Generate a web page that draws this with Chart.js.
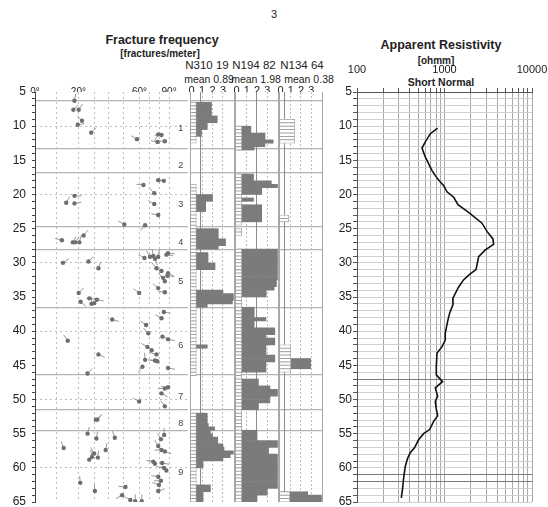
<!DOCTYPE html>
<html>
<head>
<meta charset="utf-8">
<script src="https://cdn.jsdelivr.net/npm/chart.js@4.4.1/dist/chart.umd.min.js"></script>
<style>
  body { margin: 0; width: 548px; height: 507px; overflow: hidden; background: #fff; position: relative;
         font-family: 'Liberation Sans', Arial, sans-serif; color: #222; }
  canvas { position: absolute; }
  .t { position: absolute; transform: translate(-50%, -50%); white-space: nowrap; }
  .b { font-weight: bold; }
</style>
</head>
<body>
<div class="t" style="left:274px;top:14px;font-size:11px">3</div>
<div class="t b" style="left:162px;top:40px;font-size:12.5px">Fracture frequency</div>
<div class="t b" style="left:160px;top:53px;font-size:10px">[fractures/meter]</div>
<div class="t" style="left:207px;top:65px;font-size:11.5px">N310 19</div>
<div class="t" style="left:254px;top:65px;font-size:11.5px">N194 82</div>
<div class="t" style="left:302px;top:65px;font-size:11.5px">N134 64</div>
<div class="t" style="left:209px;top:79px;font-size:10.5px">mean 0.89</div>
<div class="t" style="left:256px;top:79px;font-size:10.5px">mean 1.98</div>
<div class="t" style="left:309px;top:79px;font-size:10.5px">mean 0.38</div>
<div class="t b" style="left:441px;top:45px;font-size:12.5px">Apparent Resistivity</div>
<div class="t b" style="left:436px;top:60px;font-size:10px">[ohmm]</div>
<div class="t b" style="left:441px;top:82px;font-size:10.5px">Short Normal</div>

<canvas id="chartDip" width="190" height="430" style="left:0;top:80px"></canvas>
<canvas id="chartN310" width="57" height="430" style="left:184px;top:80px"></canvas>
<canvas id="chartN194" width="56" height="430" style="left:229px;top:80px"></canvas>
<canvas id="chartN134" width="56" height="430" style="left:273px;top:80px"></canvas>
<canvas id="chartRes" width="218" height="454" style="left:330px;top:56px"></canvas>

<script>
/* =============================================
   DATA
   ============================================= */
// zone boundaries / labels (depth, m)
const zoneBounds = [6.3, 13.3, 16.8, 24.7, 28.0, 36.6, 46.4, 51.5, 54.5];
const zoneNames = ['1', '2', '3', '4', '5', '6', '7', '8', '9'];
const zoneLabelDepths = [10.4, 15.7, 21.4, 27.0, 32.7, 42.1, 49.6, 53.5, 60.7];

// tadpoles: [depth m, dip deg, tail direction deg (0 = up, clockwise)]
const tadpoles = [
  [6.27, 18.2, 10], [7.6, 17.7, 45], [7.6, 20.2, 35], [9.2, 22.3, 315], [9.8, 19.7, 80],
  [10.95, 28.1, 45], [11.9, 58.4, 300], [11.2, 79, 210], [11.3, 82.3, 270], [12.3, 78.3, 280],
  [12.2, 85.7, 270],
  [17.9, 79, 90], [18.0, 84.7, 270], [18.6, 64, 275], [19.8, 75, 315], [20.2, 18.2, 90],
  [21.2, 14.4, 30], [21.3, 18.2, 80], [21.4, 75, 300], [23.0, 79, 280], [24.4, 50.4, 300],
  [24.5, 65.7, 220],
  [26.7, 12.4, 285], [27.0, 17.4, 30], [27.0, 18.5, 35], [27.0, 20.6, 15], [26.0, 23.3, 40],
  [28.6, 89, 95], [28.8, 87.3, 100], [29.3, 65, 300], [29.1, 70.7, 330], [29.0, 74, 350],
  [29.1, 79, 10], [29.4, 75.7, 160], [30.0, 12.9, 55], [29.8, 26.4, 45], [30.8, 32.9, 20],
  [30.8, 77.3, 320], [31.2, 82.3, 290], [31.5, 89, 120], [31.9, 88.3, 95], [32.2, 84, 315],
  [32.7, 85.7, 320], [33.7, 79, 310], [34.3, 85.7, 280], [34.4, 59.8, 305],
  [34.4, 20.2, 45], [35.2, 26.9, 100], [35.7, 21.4, 130], [35.9, 30, 50], [35.4, 31.8, 100],
  [36.0, 28.3, 0],
  [37.2, 84.7, 100], [38.1, 82.3, 300], [38.3, 42.2, 105], [39.1, 66.7, 305], [40.3, 69, 315],
  [40.8, 83.3, 110], [41.2, 89, 100], [41.4, 15.1, 325], [42.3, 68, 300], [42.8, 72.3, 310],
  [43.4, 77.3, 285], [43.4, 32.9, 115], [44.2, 65.7, 355], [44.3, 75.7, 275], [44.4, 78, 280],
  [45.2, 63, 215], [45.4, 89, 100], [46.2, 25.8, 45],
  [48.2, 89, 275], [48.4, 85.7, 270], [49.1, 82.3, 120], [50.3, 59.8, 300], [51.0, 85.7, 325],
  [52.95, 31.1, 50], [52.95, 32.2, 40], [55.0, 25.8, 15],
  [55.7, 31.5, 10], [55.6, 44, 340], [55.2, 85, 0], [55.8, 81.7, 330], [57.1, 13.2, 340],
  [57.4, 37.8, 10], [56.8, 79, 330], [57.4, 82.3, 270], [57.6, 85.7, 110], [57.9, 30, 330],
  [58.4, 28.6, 350], [58.5, 32.5, 5], [58.8, 26.9, 30], [59.1, 74, 280], [59.4, 75.7, 300],
  [59.3, 83, 100], [60.4, 87.3, 300], [60.0, 84.7, 280], [61.3, 79, 280], [61.9, 81.7, 270],
  [62.5, 79.7, 290], [62.2, 21.2, 355], [63.4, 30.5, 355], [62.8, 51.1, 275], [63.4, 79, 70],
  [64.0, 48.9, 240], [64.7, 54.2, 300], [64.9, 57.3, 0], [64.9, 62.3, 0]
];

// fracture frequency, 0.5 m bins: [first bin top depth, empty-bin box width, frequencies]
const n310Runs = [
  [6.5, 0.45, [1.9, 1.9, 1.9, 1.9, 2.45, 2.45, 1.5, 1.5, 0.95, 0.95, 0, 0]],
  [18.5, 0.45, [0, 0, 0, 2.0, 2.0, 1.35, 1.35, 1.35, 0, 0, 0, 0]],
  [24.5, 0.45, [0, 2.55, 2.55, 2.55, 3.25, 3.25, 2.55]],
  [28.0, 0.45, [0, 1.57, 1.57, 1.57, 2.24, 2.24, 0, 0, 0, 0, 0, 0, 3.0, 4.0, 4.0, 3.9, 1.5]],
  [36.5, 0.45, [0, 0, 0, 0, 0, 0, 0, 0, 0, 0, 0, 1.5, 0, 0, 0, 0, 0, 0, 0, 0]],
  [52.0, 0.45, [1.5, 1.5, 1.5, 1.6, 2.2, 1.8, 2.0, 2.5, 2.5, 3.0, 3.1, 4.0, 3.7, 3.0, 1.1, 1.1,
                0, 0, 0, 0, 0, 1.8, 1.8, 1.1, 1.1, 1.1]]
];
const n194Runs = [
  [10.0, 0.5, [1.4, 1.4, 2.78, 2.78, 3.58, 2.78, 1.72]],
  [17.0, 0.5, [1.66, 1.66, 3.4, 4.0, 2.46, 2.46, 0, 1.66, 0, 2.46, 2.46, 2.46, 2.46, 2.46, 0]],
  [25.0, 0.5, [0, 0]],
  [28.0, 0.5, [4.0, 4.0, 4.0, 4.0, 4.0, 4.0, 4.0, 4.0, 4.0, 3.9, 3.9, 3.67, 2.9, 2.9, 0, 0, 0]],
  [36.5, 0.5, [1.72, 1.72, 1.72, 2.88, 1.72, 1.72, 3.74, 3.74, 2.88, 3.74, 3.74, 2.88, 2.88, 2.88,
               3.74, 3.74, 2.88, 2.88, 2.88, 0]],
  [46.5, 0.5, [0, 2.14, 2.14, 3.26, 4.0, 4.0, 3.26, 3.26, 2.14, 2.14]],
  [51.5, 0.5, [0, 0, 0, 0, 0, 0]],
  [54.5, 0.5, [2.0, 2.0, 2.0, 4.0, 4.0, 3.13, 3.13, 4.0, 4.0, 4.0, 4.0, 4.0, 4.0, 4.0, 4.0, 4.0,
               4.0, 3.0, 3.0, 2.0, 2.0]]
];
const n134Runs = [
  [9.0, 1.4, [0, 0, 0, 0, 0, 0, 0]],
  [23.0, 0.8, [0, 0]],
  [42.0, 1.0, [0, 0, 0, 0, 2.94, 2.94, 2.94, 0]],
  [63.5, 0.9, [2.65, 4.0, 4.0]]
];
const n310Mean = 0.89;
const n194Mean = 1.98;
const n134Mean = 0.38;

// apparent resistivity, short normal
const resDepth = [10.3, 11.1, 12.3, 13.2, 14.5, 15.7, 16.5, 17.6, 18.7, 19.6, 20.4, 21.5, 22.6,
  24.2, 25.4, 26.5, 27.3, 28.1, 29.1, 30.3, 31.0, 31.8, 32.5, 33.6, 35.2, 36.1, 37.4, 38.6, 40.3,
  41.3, 42.3, 43.2, 45.2, 46.4, 47.4, 48.3, 49.5, 50.3, 51.4, 52.4, 53.2, 54.4, 55.0, 55.9, 57.1,
  57.8, 58.6, 59.8, 61.5, 63.0, 64.4];
const resOhm = [834, 689, 603, 553, 603, 670, 720, 821, 978, 1068, 1274, 1425, 1885, 2683, 3060,
  3580, 3640, 2930, 2455, 2350, 2290, 1890, 1650, 1440, 1245, 1250, 1142, 1084, 1020, 1020, 935,
  821, 806, 806, 951, 785, 834, 785, 806, 834, 752, 676, 577, 506, 452, 406, 379, 356, 341, 332, 321];
const resMarkDepths = [47.0, 61.0, 62.0];

// tick labels
const dipLabelTicks = [0, 20, 60, 90];
const dipGridTicks = [10, 20, 30, 40, 50, 60, 70, 80, 90];
const freqTicks = [0, 1, 2, 3];
const freqGridTicks = [1, 2, 3];
const depthDashTicks = [10, 20, 30, 40, 50, 60];
const resLabelTicks = [100, 1000, 10000];

/* =============================================
   SCALE HELPERS
   ============================================= */
const FONT = "'Liberation Sans', Arial, sans-serif";
Chart.defaults.font.family = FONT;
Chart.defaults.color = '#222';

const metreTicks = [];
for (let d = 5; d <= 65; d++) metreTicks.push(d);
const logGridTicks = [];
[100, 1000].forEach(dec => { for (let k = 1; k < 10; k++) logGridTicks.push(dec * k); });
logGridTicks.push(10000);

const setTicks = values => axis => { axis.ticks = values.map(v => ({ value: v })); };
const fixWidth = w => axis => { axis.width = w; axis.paddingTop = 0; axis.paddingBottom = 0; };
const fixHeight = h => axis => { axis.height = h; axis.paddingLeft = 0; axis.paddingRight = 0; };

// dip axis of the tadpole plot is not linear: [dip, offset px within a 155 px panel]
const dipScaleStops = [[0, 0], [10, 22], [20, 44], [30, 60], [40, 75], [50, 90], [60, 106],
  [70, 116], [80, 126], [90, 136], [106, 155]];

class DipScale extends Chart.LinearScale {
  getPixelForValue(value) {
    const s = dipScaleStops;
    const span = s[s.length - 1][1];
    let i = 1;
    while (i < s.length - 1 && value > s[i][0]) i++;
    const [d0, p0] = s[i - 1];
    const [d1, p1] = s[i];
    const p = p0 + (value - d0) / (d1 - d0) * (p1 - p0);
    return this.left + this.width * p / span;
  }
  getValueForPixel(pixel) {
    const s = dipScaleStops;
    const span = s[s.length - 1][1];
    const p = (pixel - this.left) / this.width * span;
    let i = 1;
    while (i < s.length - 1 && p > s[i][1]) i++;
    const [d0, p0] = s[i - 1];
    const [d1, p1] = s[i];
    return d0 + (p - p0) / (p1 - p0) * (d1 - d0);
  }
}
DipScale.id = 'dip';
DipScale.defaults = Chart.LinearScale.defaults;
Chart.register(DipScale);

function depthAxis(ticks, extra) {
  return Object.assign({
    type: 'linear', reverse: true, min: 5, max: 65, position: 'left',
    offset: false,
    afterBuildTicks: setTicks(ticks), afterFit: fixWidth(0),
    ticks: { display: false, autoSkip: false },
    grid: { offset: false, drawTicks: false, color: '#b4b4b4', lineWidth: 1.2 },
    border: { display: false }
  }, extra);
}

function topAxis(type, min, max, ticks, extra) {
  return Object.assign({
    type, min, max, position: 'top',
    afterBuildTicks: setTicks(ticks), afterFit: fixHeight(0),
    ticks: { display: false, autoSkip: false },
    grid: { drawTicks: false, color: '#bdbdbd' },
    border: { display: false }
  }, extra);
}

const baseOptions = {
  responsive: false, animation: false, events: [],
  plugins: { legend: { display: false }, tooltip: { enabled: false } }
};

/* =============================================
   TADPOLE PLOT
   ============================================= */
const TAIL = 7;
const tadpoleTails = {
  id: 'tadpoleTails',
  beforeDatasetsDraw(chart) {
    const { ctx, chartArea: a } = chart;
    const pts = chart.getDatasetMeta(0).data;
    ctx.save();
    ctx.beginPath();
    ctx.rect(a.left, a.top, a.width, a.height);
    ctx.clip();
    ctx.strokeStyle = '#8e8e8e';
    ctx.lineWidth = 0.9;
    pts.forEach((p, i) => {
      const ang = tadpoles[i][2] * Math.PI / 180;
      ctx.beginPath();
      ctx.moveTo(p.x, p.y);
      ctx.lineTo(p.x + Math.sin(ang) * TAIL, p.y - Math.cos(ang) * TAIL);
      ctx.stroke();
    });
    ctx.restore();
  }
};

const zoneLabels = {
  id: 'zoneLabels',
  afterDraw(chart) {
    const { ctx, chartArea: a } = chart;
    const y = chart.scales.y;
    ctx.save();
    ctx.fillStyle = '#444';
    ctx.font = '9px ' + FONT;
    ctx.textAlign = 'center';
    ctx.textBaseline = 'middle';
    zoneNames.forEach((n, i) => ctx.fillText(n, a.right - 7, y.getPixelForValue(zoneLabelDepths[i])));
    ctx.restore();
  }
};

new Chart(document.getElementById('chartDip'), {
  type: 'scatter',
  data: {
    datasets: [{
      data: tadpoles.map(t => ({ x: t[1], y: t[0] })),
      pointRadius: 2.2, pointHoverRadius: 2.2,
      pointBackgroundColor: '#6e6e6e', pointBorderWidth: 0
    }]
  },
  options: Object.assign({}, baseOptions, {
    layout: { padding: { bottom: 8 } },
    scales: {
      y: {
        type: 'linear', reverse: true, min: 5, max: 65, position: 'left',
        afterBuildTicks: setTicks(metreTicks), afterFit: fixWidth(35),
        ticks: { autoSkip: false, padding: 6, color: '#222', font: { size: 12 },
                 callback: v => (v % 5 === 0 ? v : '') },
        grid: { drawOnChartArea: false, tickLength: 3, tickColor: '#444' },
        border: { color: '#444', width: 1 }
      },
      yDash: depthAxis(depthDashTicks, {
        grid: { drawTicks: false, color: '#bdbdbd' },
        border: { display: false, dash: [2, 3] }
      }),
      yZone: depthAxis(zoneBounds),
      x: topAxis('dip', 0, 106, dipLabelTicks, {
        afterFit: fixHeight(12),
        ticks: { autoSkip: false, maxRotation: 0, padding: -6, color: '#222', font: { size: 10 },
                 callback: v => v + '°' },
        grid: { drawOnChartArea: false, drawTicks: false }
      }),
      xDash: topAxis('dip', 0, 106, dipGridTicks, {
        border: { display: false, dash: [2, 3] }
      })
    }
  }),
  plugins: [tadpoleTails, zoneLabels]
});

/* =============================================
   FRACTURE FREQUENCY HISTOGRAMS
   ============================================= */
const BIN = 0.5;
const F_MIN = -0.15, F_MAX = 4.15;

function expandRuns(runs) {
  const bars = [], boxes = [];
  runs.forEach(([start, boxW, vals]) => {
    vals.forEach((v, i) => {
      const d = start + BIN * i + BIN / 2;
      if (v > 0) bars.push({ x: v, y: d });
      boxes.push({ x: [-0.1, boxW], y: d });
    });
  });
  return { bars, boxes };
}

function histogramChart(id, runs, mean) {
  const { bars, boxes } = expandRuns(runs);
  return new Chart(document.getElementById(id), {
    type: 'bar',
    data: {
      datasets: [
        { data: bars, backgroundColor: '#7b7b7b', borderWidth: 0, grouped: false, order: 2,
          barPercentage: 1, categoryPercentage: 1 },
        { data: boxes, backgroundColor: '#ffffff', borderColor: '#a2a2a2', borderWidth: 0.8,
          borderSkipped: false, grouped: false, order: 1, barPercentage: 1, categoryPercentage: 1 }
      ]
    },
    options: Object.assign({}, baseOptions, {
      indexAxis: 'y',
      layout: { padding: { left: 6, right: 6, bottom: 8 } },
      scales: {
        y: depthAxis(zoneBounds),
        x: topAxis('linear', F_MIN, F_MAX, freqTicks, {
          afterFit: fixHeight(12),
          ticks: { autoSkip: false, maxRotation: 0, padding: -6, color: '#222', font: { size: 11 } },
          grid: { drawOnChartArea: false, drawTicks: false }
        }),
        xDash: topAxis('linear', F_MIN, F_MAX, freqGridTicks, {
          border: { display: false, dash: [2, 2] }
        }),
        xMean: topAxis('linear', F_MIN, F_MAX, [mean], {
          grid: { drawTicks: false, color: '#8c8c8c' }
        }),
        xEdge: topAxis('linear', F_MIN, F_MAX, [F_MIN + 0.02, F_MAX - 0.02], {
          grid: { drawTicks: false, color: '#a8a8a8' }
        })
      }
    })
  });
}

histogramChart('chartN310', n310Runs, n310Mean);
histogramChart('chartN194', n194Runs, n194Mean);
histogramChart('chartN134', n134Runs, n134Mean);

/* =============================================
   APPARENT RESISTIVITY
   ============================================= */
new Chart(document.getElementById('chartRes'), {
  type: 'line',
  data: {
    datasets: [{
      data: resDepth.map((d, i) => ({ x: resOhm[i], y: d })),
      borderColor: '#111', borderWidth: 1.6, pointRadius: 0, tension: 0, fill: false
    }]
  },
  options: Object.assign({}, baseOptions, {
    indexAxis: 'y',
    layout: { padding: { right: 16, bottom: 8 } },
    scales: {
      x: {
        type: 'logarithmic', position: 'top', min: 100, max: 10000,
        afterBuildTicks: setTicks(logGridTicks), afterFit: fixHeight(36),
        ticks: { autoSkip: false, maxRotation: 0, padding: 11, color: '#222', font: { size: 11 },
                 callback: v => (resLabelTicks.includes(v) ? v : '') },
        grid: { color: '#a8a8a8', tickLength: 4, tickColor: '#555' },
        border: { color: '#555' }
      },
      y: {
        type: 'linear', reverse: true, min: 5, max: 65, position: 'left',
        afterBuildTicks: setTicks(metreTicks), afterFit: fixWidth(27),
        ticks: { autoSkip: false, padding: 1, color: '#222', font: { size: 12 },
                 callback: v => (v % 5 === 0 ? v : '') },
        grid: { color: '#d0d0d0', tickLength: 4, tickColor: '#555' },
        border: { color: '#555' }
      },
      yMark: depthAxis(resMarkDepths, {
        grid: { drawTicks: false, color: '#7a7a7a', lineWidth: 1 }
      })
    }
  })
});
</script>
</body>
</html>
